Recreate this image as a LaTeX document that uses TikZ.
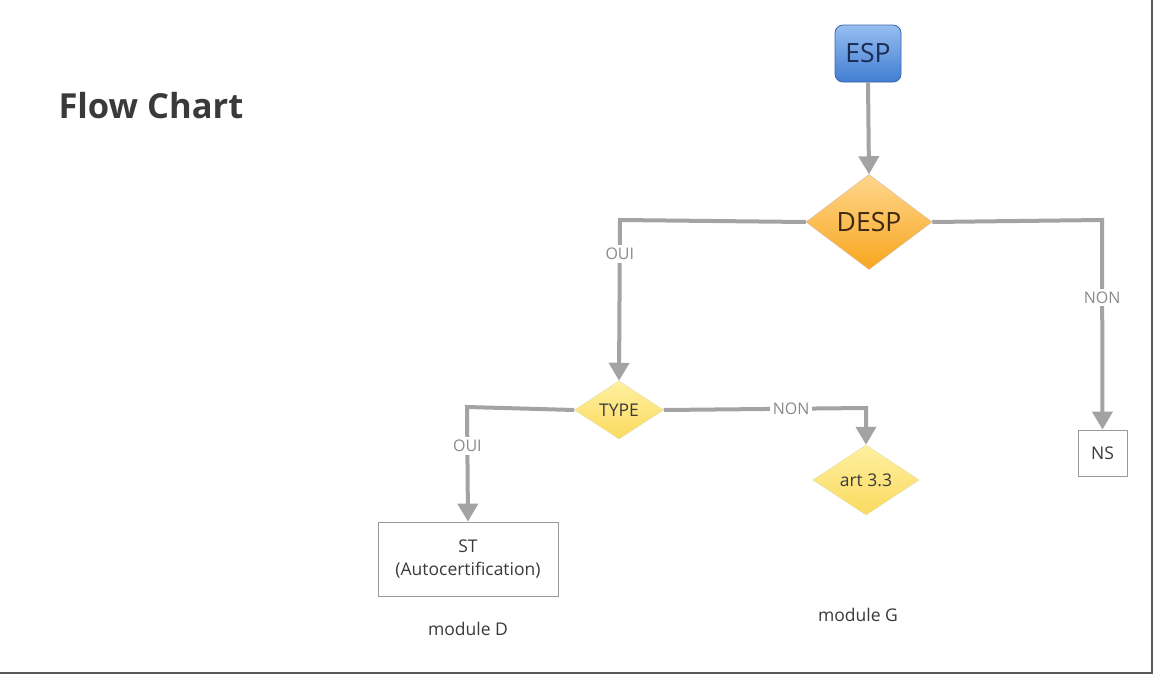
\documentclass[tikz,border=0pt]{standalone}
\usepackage{fontspec}
\setmainfont{Open Sans}
\usetikzlibrary{shapes.geometric,arrows.meta}
\definecolor{conn}{HTML}{A3A3A3}
\definecolor{lbl}{HTML}{8A8A8A}
\definecolor{txt}{HTML}{3A3A3A}
\tikzset{
  px/.style={x=1pt,y=-1pt},
  connector/.style={draw=conn,line width=4pt,-{Triangle[width=20pt,length=18pt]}},
  edgelabel/.style={fill=white,text=lbl,font=\fontsize{16}{19}\selectfont,inner sep=3pt},
  decision/.style={diamond,draw=#1!70!black!40,line width=0.5pt,inner sep=0pt,text=txt},
  whitebox/.style={draw=black!40,line width=0.8pt,fill=white,text=txt,align=center,inner sep=0pt},
  plain/.style={text=txt,font=\fontsize{17.5}{21}\selectfont},
}
\begin{document}
\begin{tikzpicture}[px]
\useasboundingbox (0,0) rectangle (1154,675);
\fill[white] (0,0) rectangle (1154,675);
\draw[black!65,line width=2pt] (1152,0) -- (1152,673) -- (0,673);
\node[text=txt,font=\fontsize{34.5}{40}\selectfont\bfseries,anchor=west] (title) at (55,106) {Flow Chart};
% nodes
\node[rounded corners=8pt,draw={rgb,255:red,60;green,100;blue,170},line width=0.8pt,
  top color={rgb,255:red,150;green,190;blue,240},bottom color={rgb,255:red,65;green,125;blue,210},
  minimum width=66pt,minimum height=57pt,inner sep=0pt,text={rgb,255:red,25;green,45;blue,85},font=\fontsize{26.5}{30}\selectfont] (esp) at (868,53.5) {ESP};
\node[decision=orange,top color={rgb,255:red,255;green,214;blue,140},bottom color={rgb,255:red,247;green,166;blue,30},
  minimum width=126pt,minimum height=95pt,text={rgb,255:red,60;green,40;blue,20},font=\fontsize{26.5}{30}\selectfont] (desp) at (869,222) {DESP};
\node[decision=yellow,top color={rgb,255:red,255;green,240;blue,160},bottom color={rgb,255:red,250;green,218;blue,95},
  minimum width=89pt,minimum height=58pt,font=\fontsize{17.5}{21}\selectfont] (type) at (619,410) {TYPE};
\node[decision=yellow,top color={rgb,255:red,255;green,240;blue,160},bottom color={rgb,255:red,250;green,218;blue,95},
  minimum width=106pt,minimum height=70pt,font=\fontsize{17.5}{21}\selectfont] (art) at (866,480) {art 3.3};
\node[whitebox,minimum width=49pt,minimum height=46pt,font=\fontsize{17.5}{21}\selectfont] (ns) at (1102.5,453) {NS};
\node[whitebox,minimum width=180pt,minimum height=74pt,font=\fontsize{17.5}{23}\selectfont] (st) at (468,559) {ST\\(Autocertification)};
\node[plain] (modd) at (468,629) {module D};
\node[plain] (modg) at (858,615) {module G};
% connectors
\draw[connector] (esp.south) -- (desp.north);
\draw[connector] (desp.west) -- (620,220) -- node[edgelabel,pos=0.21] {OUI} (type.north);
\draw[connector] (desp.east) -- (1102,220) -- node[edgelabel,pos=0.37] {NON} (ns.north);
\draw[connector] (type.west) -- (467,407) -- node[edgelabel,pos=0.34] {OUI} (st.north);
\draw[connector] (type.east) -- node[edgelabel,pos=0.63] {NON} (866,408) -- (art.north);
\end{tikzpicture}
\end{document}
